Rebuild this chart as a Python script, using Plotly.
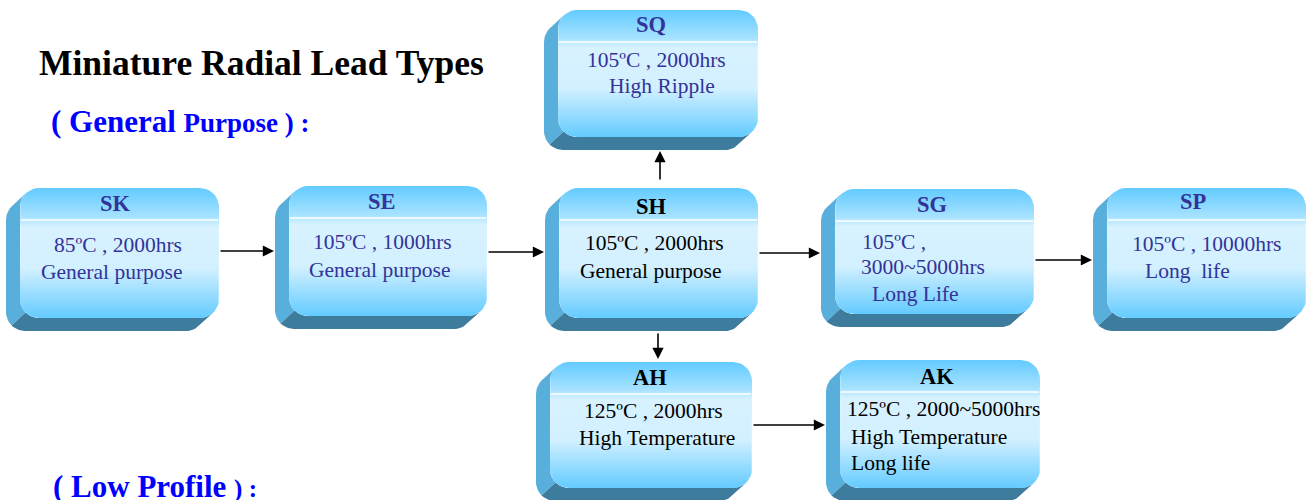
import numpy as np
import plotly.graph_objects as go

# ---------------- data ----------------
series_codes = ["SK", "SE", "SH", "SQ", "SG", "SP", "AH", "AK"]
series_lines = [
    ["85ºC , 2000hrs", "General purpose"],
    ["105ºC , 1000hrs", "General purpose"],
    ["105ºC , 2000hrs", "General purpose"],
    ["105ºC , 2000hrs", "High Ripple"],
    ["105ºC ,", "3000~5000hrs", "Long Life"],
    ["105ºC , 10000hrs", "Long  life"],
    ["125ºC , 2000hrs", "High Temperature"],
    ["125ºC , 2000~5000hrs", "High Temperature", "Long life"],
]
links = [("SK", "SE"), ("SE", "SH"), ("SH", "SG"), ("SG", "SP"),
         ("SH", "SQ"), ("SH", "AH"), ("AH", "AK")]
main_title = "Miniature Radial Lead Types"
group_general = ("( General", "Purpose ) :")
group_low = ("( Low Profile", ") :")

# ---------------- layout / style ----------------
W, H = 1307, 500
DX, DY, R, HEAD = 14, 13, 19, 32
boxes = {  # front face L, T, R, B (pixels)
    "SK": (20, 188, 219, 318), "SE": (289, 186, 487, 316),
    "SH": (559, 188, 758, 318), "SQ": (558, 10, 758, 137),
    "SG": (835, 189, 1034, 314), "SP": (1107, 188, 1306, 318),
    "AH": (550, 362, 752, 488), "AK": (840, 360, 1040, 488),
}
text_pos = {  # (x, y, anchor) for title then body lines
    "SK": [(115, 203, "center"), (118, 245, "center"), (111, 272, "center")],
    "SE": [(382, 201, "center"), (382, 242, "center"), (379, 270, "center")],
    "SH": [(651, 206, "center"), (654, 243, "center"), (650, 271, "center")],
    "SQ": [(651, 24, "center"), (656, 60, "center"), (662, 86, "center")],
    "SG": [(932, 204, "center"), (860, 242, "left"), (859, 267, "left"), (870, 294, "left")],
    "SP": [(1193, 201, "center"), (1206, 244, "center"), (1143, 271, "left")],
    "AH": [(650, 377, "center"), (653, 411, "center"), (657, 438, "center")],
    "AK": [(937, 376, "center"), (845, 409, "left"), (849, 437, "left"), (849, 463, "left")],
}
dark_text = {"SH", "AH", "AK"}
arrow_pos = {  # horizontal: y ; vertical: x
    ("SK", "SE"): 251, ("SE", "SH"): 252, ("SH", "SG"): 253, ("SG", "SP"): 260,
    ("SH", "SQ"): 660, ("SH", "AH"): 658, ("AH", "AK"): 425,
}
FONT = "Liberation Serif, Times New Roman, serif"
BLUE_TXT = "#333399"
LEFT_FACE = "#58AFDC"
BOTTOM_FACE = "#3E7C9D"


def arc(cx, cy, a0, a1, n=10):
    t = np.radians(np.linspace(a0, a1, n))
    return list(cx + R * np.cos(t)), list(cy + R * np.sin(t))


def outline(L, T, Rr, B):
    xs, ys = [], []
    for cx, cy, a0, a1 in [(Rr - R, T + R, 270, 360), (Rr - R, B - R, 0, 90),
                           (L + R, B - R, 90, 180), (L + R, T + R, 180, 270)]:
        x, y = arc(cx, cy, a0, a1)
        xs += x; ys += y
    return xs + [xs[0]], ys + [ys[0]]


def face(pieces):
    xs, ys = [], []
    for cx, cy, a0, a1 in pieces:
        x, y = arc(cx, cy, a0, a1)
        xs += x; ys += y
    bx = [v - DX for v in xs[::-1]]
    by = [v + DY for v in ys[::-1]]
    return xs + bx + [xs[0]], ys + by + [ys[0]]


fig = go.Figure()
shapes, annotations = [], []

for code, lines in zip(series_codes, series_lines):
    L, T, Rr, B = boxes[code]
    lx, ly = face([(L + R, T + R, 225, 180), (L + R, B - R, 180, 135)])
    fig.add_trace(go.Scatter(x=lx, y=ly, fill="toself", fillcolor=LEFT_FACE,
                             line=dict(width=0), mode="lines", hoverinfo="skip"))
    bx, by = face([(L + R, B - R, 135, 90), (Rr - R, B - R, 90, 45)])
    fig.add_trace(go.Scatter(x=bx, y=by, fill="toself", fillcolor=BOTTOM_FACE,
                             line=dict(width=0), mode="lines", hoverinfo="skip"))
    fx, fy = outline(L, T, Rr, B)
    fig.add_trace(go.Scatter(
        x=fx, y=fy, fill="toself", mode="lines", line=dict(width=0),
        hoverinfo="skip",
        fillgradient=dict(type="vertical", start=T, stop=B,
                          colorscale=[[0, "#63CBFF"], [0.22, "#A6E2FF"],
                                      [0.3, "#D8F2FF"], [0.62, "#D2F0FF"],
                                      [1, "#63CBFF"]])))
    shapes.append(dict(type="line", x0=L + 1, x1=Rr - 1, y0=T + HEAD, y1=T + HEAD,
                       line=dict(color="white", width=1.6), xref="x", yref="y"))
    col = "black" if code in dark_text else BLUE_TXT
    pos = text_pos[code]
    annotations.append(dict(x=pos[0][0], y=pos[0][1], text=f"<b>{code}</b>",
                            showarrow=False, xanchor=pos[0][2], yanchor="middle",
                            font=dict(family=FONT, size=22.5, color=col)))
    for (x, y, anc), txt in zip(pos[1:], lines):
        annotations.append(dict(x=x, y=y, text=txt.replace("  ", "&nbsp; "),
                                showarrow=False, xanchor=anc, yanchor="middle",
                                font=dict(family=FONT, size=21.5, color=col)))

for src, dst in links:
    sL, sT, sR, sB = boxes[src]
    dL, dT, dR, dB = boxes[dst]
    p = arrow_pos[(src, dst)]
    if dL > sR:  # horizontal
        x0, y0, x1, y1 = sR, p, dL - DX - 1, p
    elif dT > sB:  # down
        x0, y0, x1, y1 = p, sB + DY + 1, p, dT - 3
    else:  # up
        x0, y0, x1, y1 = p, sT - 7, p, dB + DY + 1
    annotations.append(dict(x=x1, y=y1, ax=x0, ay=y0, xref="x", yref="y",
                            axref="x", ayref="y", showarrow=True, text="",
                            arrowhead=2, arrowsize=1.4, arrowwidth=1.6,
                            arrowcolor="black", standoff=0))

annotations.append(dict(x=37, y=63, text=f"<b>{main_title}</b>", showarrow=False,
                        xanchor="left", yanchor="middle",
                        font=dict(family=FONT, size=35.5, color="black")))
annotations.append(dict(x=49, y=121,
                        text=f"<b>{group_general[0]} <span style='font-size:27px'>{group_general[1]}</span></b>",
                        showarrow=False, xanchor="left", yanchor="middle",
                        font=dict(family=FONT, size=31, color="#0000FF")))
annotations.append(dict(x=51, y=486,
                        text=f"<b>{group_low[0]} <span style='font-size:25px'>{group_low[1]}</span></b>",
                        showarrow=False, xanchor="left", yanchor="middle",
                        font=dict(family=FONT, size=31, color="#0000FF")))

fig.update_layout(
    width=W, height=H, margin=dict(l=0, r=0, t=0, b=0),
    paper_bgcolor="white", plot_bgcolor="white", showlegend=False,
    xaxis=dict(range=[0, W], visible=False, fixedrange=True),
    yaxis=dict(range=[H, 0], visible=False, fixedrange=True),
    shapes=shapes, annotations=annotations,
)
fig.write_html("out.html", config={"displayModeBar": False},
               post_script="document.body.style.margin='0';")
